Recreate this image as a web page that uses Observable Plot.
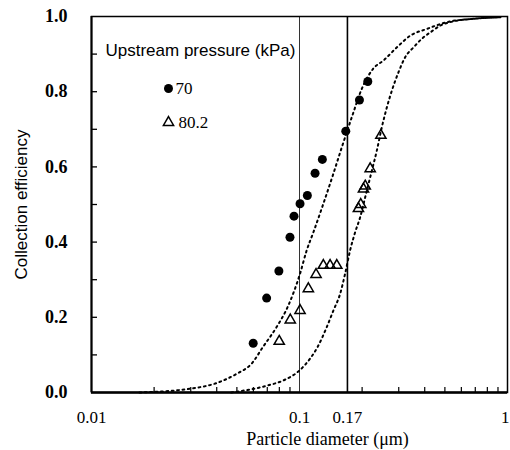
<!DOCTYPE html>
<html>
<head>
<meta charset="utf-8">
<script src="https://cdn.jsdelivr.net/npm/d3@7"></script>
<script src="https://cdn.jsdelivr.net/npm/@observablehq/plot@0.6"></script>
<style>
  html, body { margin: 0; padding: 0; background: #fff; }
</style>
</head>
<body>
<div id="chart"></div>
<script>
// Measured data, 70 kPa upstream pressure (filled circles)
const diam70 = [0.0599, 0.0695, 0.0796, 0.0900, 0.0941, 0.1006, 0.1091, 0.1188, 0.1288, 0.1669, 0.1942, 0.2130];
const eff70  = [0.131, 0.251, 0.323, 0.413, 0.469, 0.502, 0.524, 0.583, 0.620, 0.695, 0.778, 0.827];

// Measured data, 80.2 kPa upstream pressure (open triangles)
const diam802 = [0.0799, 0.0903, 0.1006, 0.1103, 0.1201, 0.1302, 0.1403, 0.1511, 0.1920, 0.1970, 0.2030, 0.2070, 0.2187, 0.2462];
const eff802  = [0.136, 0.193, 0.218, 0.276, 0.314, 0.338, 0.338, 0.338, 0.489, 0.500, 0.541, 0.549, 0.595, 0.684];

// Dotted fitted curves
const fit70Diam = [0.017, 0.0297, 0.0399, 0.0500, 0.0587, 0.0669, 0.0776, 0.0883, 0.1006, 0.1083, 0.1166, 0.1302, 0.1455, 0.1597, 0.1784, 0.1994, 0.2268, 0.2534, 0.2940, 0.3408, 0.410, 0.512, 0.688, 0.925];
const fit70Eff  = [0.000, 0.010, 0.025, 0.050, 0.076, 0.122, 0.174, 0.231, 0.316, 0.378, 0.426, 0.502, 0.582, 0.652, 0.732, 0.808, 0.862, 0.883, 0.918, 0.949, 0.967, 0.985, 0.994, 0.998];

const fit802Diam = [0.047, 0.0707, 0.0836, 0.1006, 0.1124, 0.1219, 0.1352, 0.1455, 0.1567, 0.1657, 0.1751, 0.1851, 0.1957, 0.2069, 0.2228, 0.2355, 0.2489, 0.2632, 0.2792, 0.2993, 0.3224, 0.3535, 0.388, 0.4336, 0.4755, 0.531, 0.688, 0.925];
const fit802Eff  = [0.000, 0.019, 0.032, 0.060, 0.090, 0.120, 0.174, 0.218, 0.262, 0.316, 0.378, 0.426, 0.466, 0.519, 0.590, 0.644, 0.706, 0.759, 0.806, 0.852, 0.892, 0.918, 0.941, 0.961, 0.976, 0.985, 0.994, 0.998];

// Axis ticks and labels
const xLabelTicks = [0.01, 0.1, 0.17];
const xLabelText = ["0.01", "0.1", "0.17"];
const xEndTick = [1];
const xEndText = ["1"];
const xMinorTicks = [0.02, 0.03, 0.04, 0.05, 0.06, 0.07, 0.08, 0.09, 0.2, 0.3, 0.4, 0.5, 0.6, 0.7, 0.8, 0.9];
const yLabelTicks = [0, 0.2, 0.4, 0.6, 0.8, 1.0];
const yMinorTicks = [0.1, 0.2, 0.3, 0.4, 0.5, 0.6, 0.7, 0.8, 0.9];
const markerLines = [0.1, 0.17];

const xTitle = "Particle diameter (\u03bcm)";
const yTitle = "Collection efficiency";
const legendTitle = "Upstream pressure (kPa)";
const seriesNames = ["70", "80.2"];

const rows70 = diam70.map((d, i) => ({d, e: eff70[i]}));
const rows802 = diam802.map((d, i) => ({d, e: eff802[i]}));
const fit70 = fit70Diam.map((d, i) => ({d, e: fit70Eff[i]}));
const fit802 = fit802Diam.map((d, i) => ({d, e: fit802Eff[i]}));

const serif = "'Liberation Serif', 'Times New Roman', serif";
const sans = "'Liberation Sans', Arial, sans-serif";

const xFmt = (d) => { const k = xLabelTicks.findIndex(t => Math.abs(t - d) < 1e-9); return k < 0 ? "" : xLabelText[k]; };

const chart = Plot.plot({
  width: 510,
  height: 450,
  marginLeft: 91,
  marginRight: 3,
  marginTop: 16,
  marginBottom: 58,
  style: {fontFamily: serif, background: "#fff", color: "#000"},
  x: {type: "log", domain: [0.01, 1]},
  y: {domain: [0, 1]},
  marks: [
    // vertical reference lines
    Plot.ruleX([markerLines[0]], {stroke: "#333", strokeWidth: 1}),
    Plot.ruleX([markerLines[1]], {stroke: "#000", strokeWidth: 1.6}),
    // fitted dotted curves
    Plot.line(fit70, {x: "d", y: "e", curve: "monotone-x", stroke: "#000", strokeWidth: 2, strokeDasharray: "1.8 3.6"}),
    Plot.line(fit802, {x: "d", y: "e", curve: "monotone-x", stroke: "#000", strokeWidth: 2, strokeDasharray: "1.8 3.6"}),
    // data
    Plot.dot(rows70, {x: "d", y: "e", r: 4.5, fill: "#000", stroke: "none"}),
    Plot.dot(rows802, {x: "d", y: "e", symbol: "triangle", r: 3.8, fill: "none", stroke: "#000", strokeWidth: 1.5}),
    // axes
    Plot.axisY({ticks: yLabelTicks, tickSize: 0, tickPadding: 24, tickFormat: d3.format(".1f"), fontSize: 18, fontWeight: "bold", label: null}),
    Plot.axisY({ticks: yMinorTicks, tickSize: -6, tickFormat: () => "", label: null, strokeWidth: 1.3}),
    Plot.axisX({ticks: xLabelTicks, tickSize: 0, tickPadding: 18, tickFormat: xFmt, fontSize: 17, label: null}),
    Plot.axisX({ticks: xEndTick, tickSize: 0, tickPadding: 18, tickFormat: () => xEndText[0], fontSize: 17, textAnchor: "end", dx: 2, label: null}),
    Plot.axisX({ticks: xMinorTicks, tickSize: -5, tickFormat: () => "", label: null, strokeWidth: 1.2}),
    // frame
    Plot.frame({stroke: "#000", strokeWidth: 1.5}),
    Plot.ruleY([0], {stroke: "#000", strokeWidth: 2.5}),
    Plot.ruleX([0.01], {stroke: "#000", strokeWidth: 2}),
    // titles
    Plot.text([xTitle], {frameAnchor: "bottom", dx: 28, dy: 52, fontSize: 18, fontFamily: serif, letterSpacing: "2.5px", textAnchor: "middle", lineAnchor: "bottom"}),
    Plot.text([yTitle], {frameAnchor: "left", dx: -70, rotate: -90, fontSize: 17, fontFamily: sans, letterSpacing: "1.2px", textAnchor: "middle"}),
    // legend
    Plot.text([legendTitle], {frameAnchor: "top-left", dx: 14, dy: 34, fontSize: 17, fontFamily: sans, textAnchor: "start", lineAnchor: "middle"}),
    Plot.dot([0], {frameAnchor: "top-left", dx: 77, dy: 72, r: 4.5, fill: "#000", stroke: "none"}),
    Plot.text([seriesNames[0]], {frameAnchor: "top-left", dx: 84, dy: 72, fontSize: 17, fontFamily: serif, textAnchor: "start", lineAnchor: "middle"}),
    Plot.dot([0], {frameAnchor: "top-left", dx: 77, dy: 106, symbol: "triangle", r: 3.8, fill: "none", stroke: "#000", strokeWidth: 1.5}),
    Plot.text([seriesNames[1]], {frameAnchor: "top-left", dx: 87, dy: 106, fontSize: 17, fontFamily: serif, textAnchor: "start", lineAnchor: "middle"})
  ]
});
document.getElementById("chart").appendChild(chart);
</script>
</body>
</html>
